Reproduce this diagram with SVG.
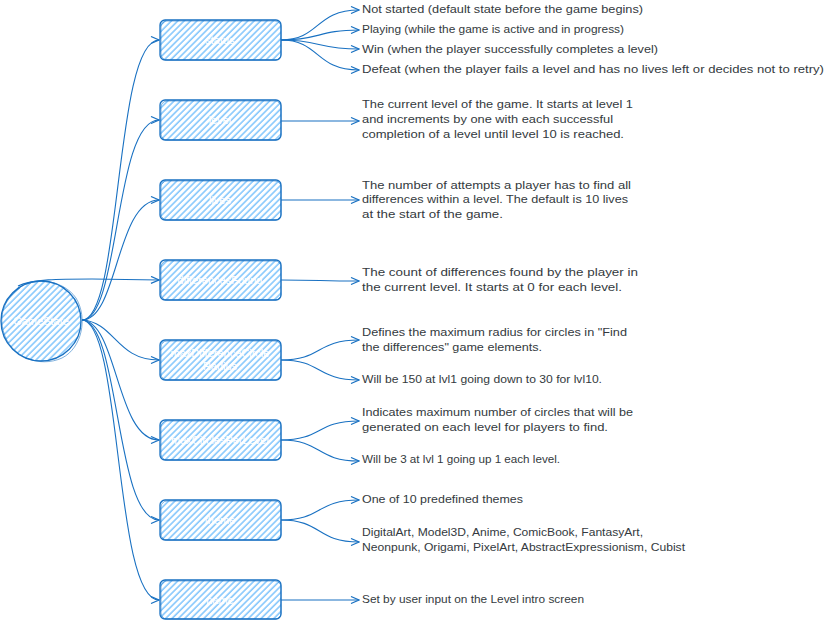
<svg xmlns="http://www.w3.org/2000/svg" width="831" height="621" viewBox="0 0 831 621">
<style>
.box{fill:url(#hatch);stroke:#1971c2;stroke-width:1.3}
.box2{fill:none;stroke:#1971c2;stroke-width:0.8;opacity:0.7}
.lbl{font-family:"Liberation Sans",Arial,sans-serif;font-size:11px;fill:#ffffff;text-anchor:middle}
.txt{font-family:"Liberation Sans",Arial,sans-serif;font-size:11px;fill:#343a40}
.con{fill:none;stroke:#1971c2;stroke-width:1.1;marker-end:url(#arr)}
</style>
<defs>
<pattern id="hatch" patternUnits="userSpaceOnUse" width="4.5" height="4.5" patternTransform="rotate(-45)">
<rect width="4.5" height="4.5" fill="#ffffff" fill-opacity="0"/>
<line x1="0" y1="1" x2="4.5" y2="1" stroke="#74c0fc" stroke-width="1.4"/>
</pattern>
<marker id="arr" markerWidth="10" markerHeight="8" refX="9" refY="4" orient="auto" markerUnits="userSpaceOnUse">
<path d="M1,0.5 L9,4 L1,7.5" fill="none" stroke="#1971c2" stroke-width="1.2"/>
</marker>
</defs>

<g id="connectors">
<path class="con" d="M82,320 C122,320 114,40 159,40"/>
<path class="con" d="M82,320 C120,320 114,120 159,120"/>
<path class="con" d="M82,320 C118,320 116,200 159,200"/>
<path class="con" d="M18,286 C32,279 60,279 92,279 L159,280"/>
<path class="con" d="M82,320 C115,322 116,360 159,360"/>
<path class="con" d="M82,320 C118,322 116,440 159,440"/>
<path class="con" d="M82,320 C120,322 115,520 159,520"/>
<path class="con" d="M82,320 C122,322 114,600 159,600"/>

<path class="con" d="M281,40 C320,40 315,10 359,10"/>
<path class="con" d="M281,40 C320,40 318,30 359,30"/>
<path class="con" d="M281,40 C320,40 318,49 359,49"/>
<path class="con" d="M281,40 C320,40 315,70 359,70"/>
<path class="con" d="M281,121 C320,121 320,121 359,121"/>
<path class="con" d="M281,200 C320,200 320,200 359,200"/>
<path class="con" d="M281,280 C320,280 320,281 359,281"/>
<path class="con" d="M281,360 C322,360 316,340 359,340"/>
<path class="con" d="M281,360 C322,360 316,380 359,380"/>
<path class="con" d="M281,440 C322,440 316,421 359,421"/>
<path class="con" d="M281,440 C322,440 316,461 359,461"/>
<path class="con" d="M281,520 C322,520 316,500 359,500"/>
<path class="con" d="M281,520 C322,520 316,542 359,542"/>
<path class="con" d="M281,600 C320,600 320,600 359,600"/>
</g>

<g id="root">
<circle class="box" cx="41" cy="321" r="40"/>
<path class="box2" d="M14,292 C30,276 62,278 76,298 C88,318 82,348 62,358 C40,368 10,358 3,330 C-1,312 6,298 20,288"/>
<text class="lbl" x="41" y="325">GameState</text>
</g>

<g id="node-status">
<rect class="box" x="160" y="20" width="121" height="40" rx="5"/>
<rect class="box2" x="161" y="21" width="120" height="39" rx="6"/>
<text class="lbl" x="220" y="44">status</text>
</g>
<g id="node-level">
<rect class="box" x="160" y="100" width="121" height="40" rx="5"/>
<rect class="box2" x="161" y="101" width="120" height="39" rx="6"/>
<text class="lbl" x="220" y="124">level</text>
</g>
<g id="node-lives">
<rect class="box" x="160" y="180" width="121" height="40" rx="5"/>
<rect class="box2" x="161" y="181" width="120" height="39" rx="6"/>
<text class="lbl" x="220" y="204">lives</text>
</g>
<g id="node-found">
<rect class="box" x="160" y="260" width="121" height="40" rx="5"/>
<rect class="box2" x="161" y="261" width="120" height="39" rx="6"/>
<text class="lbl" x="220" y="284">differencesFound</text>
</g>
<g id="node-radius">
<rect class="box" x="160" y="340" width="121" height="40" rx="5"/>
<rect class="box2" x="161" y="341" width="120" height="39" rx="6"/>
<text class="lbl" x="220" y="357">maxDifferenceCircle</text>
<text class="lbl" x="220" y="370">Radius</text>
</g>
<g id="node-circles">
<rect class="box" x="160" y="420" width="121" height="40" rx="5"/>
<rect class="box2" x="161" y="421" width="120" height="39" rx="6"/>
<text class="lbl" x="220" y="444">maxCirclesPerLevel</text>
</g>
<g id="node-theme">
<rect class="box" x="160" y="500" width="121" height="40" rx="5"/>
<rect class="box2" x="161" y="501" width="120" height="39" rx="6"/>
<text class="lbl" x="220" y="524">theme</text>
</g>
<g id="node-name">
<rect class="box" x="160" y="580" width="121" height="39" rx="5"/>
<rect class="box2" x="161" y="581" width="120" height="38" rx="6"/>
<text class="lbl" x="220" y="604">name</text>
</g>

<g id="texts">
<text class="txt" x="362" y="13" textLength="281" lengthAdjust="spacingAndGlyphs">Not started (default state before the game begins)</text>
<text class="txt" x="362" y="33" textLength="262" lengthAdjust="spacingAndGlyphs">Playing (while the game is active and in progress)</text>
<text class="txt" x="362" y="53" textLength="296" lengthAdjust="spacingAndGlyphs">Win (when the player successfully completes a level)</text>
<text class="txt" x="362" y="73" textLength="462" lengthAdjust="spacingAndGlyphs">Defeat (when the player fails a level and has no lives left or decides not to retry)</text>

<text class="txt" x="362" y="108" textLength="271" lengthAdjust="spacingAndGlyphs">The current level of the game. It starts at level 1</text>
<text class="txt" x="362" y="123" textLength="251" lengthAdjust="spacingAndGlyphs">and increments by one with each successful</text>
<text class="txt" x="362" y="138" textLength="262" lengthAdjust="spacingAndGlyphs">completion of a level until level 10 is reached.</text>

<text class="txt" x="362" y="189" textLength="269" lengthAdjust="spacingAndGlyphs">The number of attempts a player has to find all</text>
<text class="txt" x="362" y="203" textLength="266" lengthAdjust="spacingAndGlyphs">differences within a level. The default is 10 lives</text>
<text class="txt" x="362" y="218" textLength="141" lengthAdjust="spacingAndGlyphs">at the start of the game.</text>

<text class="txt" x="362" y="276" textLength="276" lengthAdjust="spacingAndGlyphs">The count of differences found by the player in</text>
<text class="txt" x="362" y="291" textLength="260" lengthAdjust="spacingAndGlyphs">the current level. It starts at 0 for each level.</text>

<text class="txt" x="362" y="336" textLength="265" lengthAdjust="spacingAndGlyphs">Defines the maximum radius for circles in "Find</text>
<text class="txt" x="362" y="351" textLength="180" lengthAdjust="spacingAndGlyphs">the differences" game elements.</text>
<text class="txt" x="362" y="383" textLength="240" lengthAdjust="spacingAndGlyphs">Will be 150 at lvl1 going down to 30 for lvl10.</text>

<text class="txt" x="362" y="416" textLength="271" lengthAdjust="spacingAndGlyphs">Indicates maximum number of circles that will be</text>
<text class="txt" x="362" y="431" textLength="246" lengthAdjust="spacingAndGlyphs">generated on each level for players to find.</text>
<text class="txt" x="362" y="463" textLength="198" lengthAdjust="spacingAndGlyphs">Will be 3 at lvl 1 going up 1 each level.</text>

<text class="txt" x="362" y="503" textLength="161" lengthAdjust="spacingAndGlyphs">One of 10 predefined themes</text>
<text class="txt" x="362" y="536" textLength="281" lengthAdjust="spacingAndGlyphs">DigitalArt, Model3D, Anime, ComicBook, FantasyArt,</text>
<text class="txt" x="362" y="551" textLength="323" lengthAdjust="spacingAndGlyphs">Neonpunk, Origami, PixelArt, AbstractExpressionism, Cubist</text>

<text class="txt" x="362" y="603" textLength="222" lengthAdjust="spacingAndGlyphs">Set by user input on the Level intro screen</text>
</g>
</svg>
